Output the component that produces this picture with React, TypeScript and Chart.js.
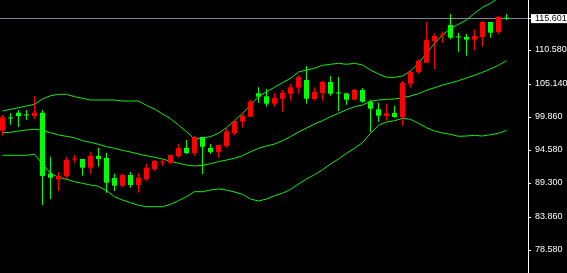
import React, { useEffect, useRef } from 'react';
import { Chart, registerables } from 'chart.js';

Chart.register(...registerables);

// OHLC per candle (oldest -> newest)
const opens = [97.67, 99.67, 100.55, 100.15, 100.02, 100.55, 90.79, 89.89, 90.42, 93.07, 93.14, 91.75, 93.62, 93.30, 90.10, 88.87, 90.58, 88.98, 89.94, 91.54, 92.59, 92.55, 93.62, 94.90, 94.10, 96.66, 94.90, 94.26, 95.22, 97.25, 99.11, 99.91, 103.65, 103.17, 101.99, 102.79, 103.59, 104.55, 105.78, 102.74, 103.70, 105.46, 103.67, 103.65, 102.63, 104.18, 102.31, 101.09, 100.02, 100.50, 99.86, 105.19, 107.06, 108.55, 112.02, 112.91, 114.58, 112.63, 112.66, 112.23, 112.66, 115.06, 113.46, 115.62];
const highs = [100.18, 100.45, 100.98, 100.98, 103.22, 100.98, 93.51, 91.06, 93.51, 93.78, 93.14, 94.31, 94.95, 94.10, 90.79, 90.79, 91.06, 90.90, 92.34, 92.98, 92.98, 93.78, 95.54, 96.18, 96.87, 96.66, 95.54, 95.38, 98.05, 99.22, 100.45, 102.58, 104.61, 104.29, 103.65, 104.18, 105.14, 106.53, 108.02, 104.61, 105.67, 106.42, 106.26, 103.65, 104.34, 104.50, 102.58, 102.15, 101.94, 101.62, 105.62, 107.22, 109.09, 115.06, 113.25, 113.51, 116.34, 113.30, 113.14, 113.89, 115.22, 115.06, 116.02, 116.34];
const lows = [96.87, 98.63, 98.26, 99.38, 99.54, 85.78, 86.74, 88.02, 89.89, 92.45, 90.47, 90.79, 91.91, 87.75, 88.02, 88.66, 88.55, 87.75, 89.62, 91.22, 92.07, 92.34, 93.35, 93.94, 93.67, 90.74, 93.94, 93.35, 94.95, 96.98, 98.15, 99.91, 102.15, 101.51, 101.51, 100.71, 102.47, 103.59, 101.99, 102.47, 102.47, 103.27, 100.82, 101.83, 102.63, 102.15, 97.46, 99.11, 99.27, 99.75, 98.47, 104.55, 106.79, 108.55, 107.54, 111.70, 112.29, 110.31, 109.67, 110.47, 111.11, 112.55, 113.19, 115.38];
const closes = [99.81, 99.63, 100.02, 100.11, 100.55, 90.42, 90.15, 90.42, 92.98, 93.11, 91.75, 93.62, 93.14, 89.35, 88.87, 90.58, 88.98, 90.15, 91.75, 92.82, 92.63, 93.78, 94.90, 94.10, 96.61, 95.11, 94.26, 95.38, 97.51, 99.22, 100.02, 102.31, 103.11, 101.99, 102.90, 103.70, 104.61, 106.21, 102.79, 103.86, 105.46, 103.59, 103.63, 102.63, 104.18, 102.31, 101.19, 100.07, 100.45, 99.86, 105.30, 107.06, 108.82, 112.18, 112.82, 112.95, 112.55, 112.59, 112.23, 112.82, 115.06, 113.35, 115.86, 115.601];

// Bollinger bands
const upperBand = [100.82, 101.09, 101.35, 101.62, 101.89, 102.74, 103.27, 103.49, 103.49, 103.11, 102.85, 102.58, 102.58, 102.58, 102.58, 102.42, 102.42, 102.42, 101.73, 101.14, 100.34, 99.59, 98.58, 97.51, 96.29, 96.55, 96.71, 97.25, 98.15, 99.27, 100.45, 101.78, 103.11, 103.91, 104.61, 105.35, 106.05, 107.06, 107.38, 107.65, 108.13, 108.29, 108.45, 108.29, 108.45, 108.18, 107.38, 106.74, 106.21, 106.21, 106.42, 107.22, 108.45, 110.05, 111.65, 112.98, 114.05, 114.69, 115.38, 116.45, 117.41, 118.05, 118.90, 119.86];
const middleBand = [97.35, 97.41, 97.62, 97.78, 97.89, 97.73, 97.35, 96.98, 96.77, 96.55, 96.07, 95.81, 95.49, 95.11, 94.85, 94.53, 94.26, 93.94, 93.67, 93.41, 93.14, 92.77, 92.45, 92.18, 92.02, 92.13, 92.39, 92.71, 92.98, 93.25, 93.67, 94.31, 94.85, 95.22, 95.54, 96.07, 96.71, 97.46, 98.10, 98.74, 99.27, 99.91, 100.45, 101.03, 101.51, 101.78, 102.37, 102.58, 102.69, 102.74, 102.95, 103.22, 103.59, 104.13, 104.55, 104.98, 105.30, 105.67, 106.10, 106.53, 107.01, 107.54, 108.13, 108.87];
const lowerBand = [93.73, 93.73, 93.73, 93.73, 93.89, 92.34, 90.85, 90.21, 89.89, 89.51, 89.25, 88.98, 88.77, 88.07, 87.11, 86.58, 86.15, 85.73, 85.51, 85.51, 85.51, 85.89, 86.47, 87.11, 87.91, 87.91, 88.18, 88.34, 88.18, 87.86, 87.49, 86.74, 86.42, 86.74, 87.27, 87.65, 88.29, 89.14, 89.94, 90.63, 91.43, 92.34, 93.14, 94.05, 94.85, 95.75, 97.25, 98.53, 99.06, 99.27, 99.65, 99.49, 98.85, 98.15, 97.62, 97.30, 97.09, 96.77, 96.82, 96.93, 96.82, 97.03, 97.25, 97.73];

// Price axis
const tickValues = [78.58, 83.86, 89.3, 94.58, 99.86, 105.14, 110.58, 115.601];
const currentPrice = 115.601;
const priceMin = 74.9;
const priceMax = 118.58;

const BULL = '#ff0000';
const BEAR = '#00ff00';
const BAND = '#10f010';
const BIDLINE = '#778899';

export default function App() {
  const ref = useRef<HTMLCanvasElement | null>(null);

  useEffect(() => {
    if (!ref.current) return;
    const idx = opens.map((_, i) => i);
    const colors = idx.map((i) => (closes[i] >= opens[i] ? BULL : BEAR));

    const bidLine = {
      id: 'bidLine',
      beforeDatasetsDraw(chart: any) {
        const { ctx, chartArea, scales } = chart;
        const y = Math.floor(scales.y.getPixelForValue(currentPrice)) + 0.5;
        ctx.save();
        ctx.strokeStyle = BIDLINE;
        ctx.lineWidth = 1;
        ctx.beginPath();
        ctx.moveTo(chartArea.left, y);
        ctx.lineTo(chartArea.right, y);
        ctx.stroke();
        ctx.restore();
      },
    };

    const isCur = (c: any) => !!c.tick && Math.abs(c.tick.value - currentPrice) < 1e-6;

    const lineDs = (vals: number[]) => ({
      type: 'line' as const,
      data: idx.map((i) => ({ x: i, y: vals[i] })),
      borderColor: BAND,
      borderWidth: 1,
      pointRadius: 0,
      tension: 0,
      order: 2,
    });

    const chart = new Chart(ref.current, {
      type: 'bar',
      data: {
        datasets: [
          {
            type: 'bar',
            label: 'body',
            data: idx.map((i) => ({ x: i, y: [opens[i], closes[i]] })) as any,
            backgroundColor: colors,
            barThickness: 5,
            grouped: false,
            minBarLength: 1,
            inflateAmount: 0,
            borderWidth: 0,
            order: 0,
          } as any,
          {
            type: 'bar',
            label: 'wick',
            data: idx.map((i) => ({ x: i, y: [lows[i], highs[i]] })) as any,
            backgroundColor: colors,
            barThickness: 1,
            grouped: false,
            inflateAmount: 0,
            borderWidth: 0,
            order: 1,
          } as any,
          lineDs(upperBand) as any,
          lineDs(middleBand) as any,
          lineDs(lowerBand) as any,
        ],
      },
      options: {
        animation: false,
        responsive: false,
        devicePixelRatio: 1,
        layout: { padding: 0 },
        plugins: { legend: { display: false }, tooltip: { enabled: false } },
        scales: {
          x: {
            type: 'linear',
            display: false,
            min: -0.3125,
            max: 65.6875,
            offset: false,
          },
          y: {
            type: 'linear',
            position: 'right',
            min: priceMin,
            max: priceMax,
            bounds: 'data',
            beginAtZero: false,
            afterBuildTicks: (s: any) => {
              s.ticks = tickValues.map((v) => ({ value: v }));
            },
            afterFit: (s: any) => {
              s.width = 39;
              s.paddingTop = 0;
              s.paddingBottom = 0;
            },
            border: { display: true, color: '#ffffff', width: 1 },
            grid: { drawOnChartArea: false, drawTicks: true, tickLength: 3, color: '#ffffff' },
            ticks: {
              autoSkip: false,
              padding: 4,
              font: { family: '"Liberation Sans", Arial, sans-serif', size: 9, lineHeight: 1 },
              color: (c: any) => (isCur(c) ? '#000000' : '#ffffff'),
              showLabelBackdrop: (c: any) => isCur(c),
              backdropColor: (c: any) => (isCur(c) ? '#ffffff' : 'rgba(0,0,0,0)'),
              backdropPadding: { top: 0, bottom: 0, left: 4, right: 6 },
              callback: (v: any) => Number(v).toFixed(3),
            } as any,
          },
        },
      },
      plugins: [bidLine],
    } as any);

    return () => chart.destroy();
  }, []);

  return (
    <div style={{ position: 'fixed', left: 0, top: 0, width: 567, height: 273, background: '#000000' }}>
      <canvas ref={ref} width={567} height={273} style={{ display: 'block', width: 567, height: 273 }} />
    </div>
  );
}
